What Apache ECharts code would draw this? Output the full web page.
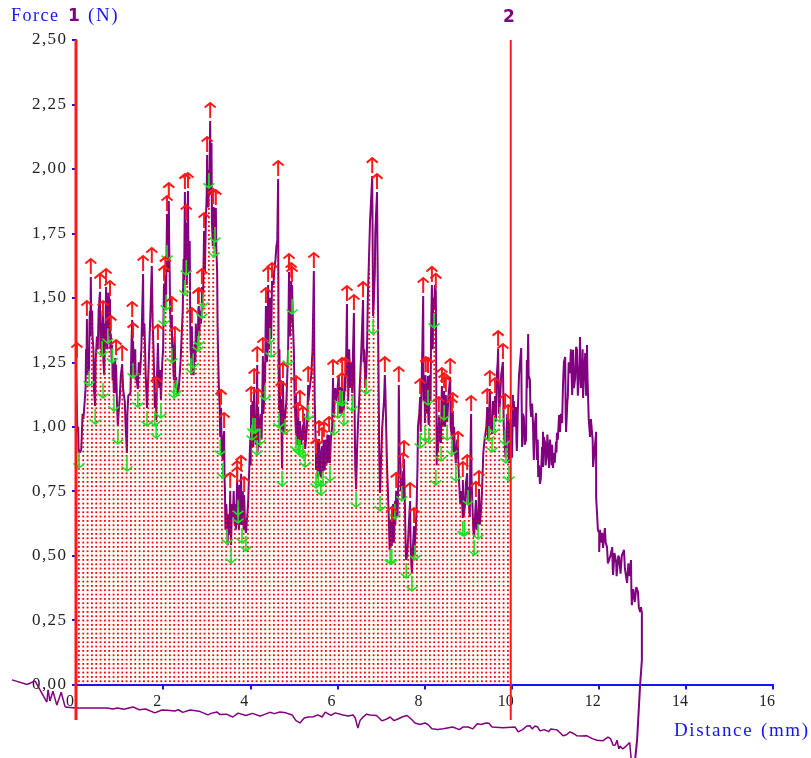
<!DOCTYPE html>
<html><head><meta charset="utf-8">
<style>html,body{margin:0;padding:0;background:#fff}#c{width:811px;height:758px}</style>
<script src="https://cdn.jsdelivr.net/npm/echarts@6/dist/echarts.min.js"></script>
</head><body><div id="c"></div>
<script>
const xTickLabels = ['0','2','4','6','8','10','12','14','16'];
const yTickLabels = ['0,00','0,25','0,50','0,75','1,00','1,25','1,50','1,75','2,00','2,25','2,50'];
const cursorPositions = [0, 9.98];
const cursorRange = [-0.138, 2.5];

const forcePoints = [[0,0],[0,1.255],[.02,1.255],[.03,.98],[.05,1],[.06,.9],[.07,.91],[.09,.9],[.12,.91],[.13,.95],[.15,1.05],[.17,1.03],[.2,1.1],[.22,1.15],[.23,1.3],[.24,1.2],[.25,1.418],[.26,1.25],[.27,1.3],[.28,1.2],[.3,1.228],[.31,1.4],[.32,1.45],[.33,1.35],[.34,1.581],[.35,1.4],[.37,1.45],[.38,1.35],[.4,1.3],[.41,1.15],[.44,1.08],[.45,1.25],[.47,1.25],[.48,1.35],[.5,1.3],[.52,1.45],[.55,1.523],[.56,1.3],[.58,1.4],[.59,1.28],[.6,1.344],[.61,1.45],[.62,1.418],[.63,1.25],[.65,1.2],[.66,1.4],[.67,1.3],[.69,1.542],[.7,1.35],[.71,1.45],[.72,1.3],[.73,1.394],[.74,1.52],[.76,1.5],[.77,1.35],[.78,1.495],[.79,1.3],[.8,1.36],[.82,1.25],[.83,1.317],[.84,1.18],[.85,1.25],[.87,1.131],[.89,1.2],[.9,1.266],[.91,1.13],[.92,1.24],[.94,1.1],[.96,1.003],[.98,1.06],[1,1.1],[1.03,1.2],[1.06,1.243],[1.08,1.15],[1.1,1.12],[1.12,1.1],[1.14,1],[1.17,.898],[1.18,1.05],[1.2,1.12],[1.25,1.13],[1.27,1.3],[1.29,1.414],[1.3,1.2],[1.31,1.259],[1.31,1.332],[1.33,1.2],[1.36,1.3],[1.37,1.18],[1.38,1.2],[1.42,1.146],[1.44,1.25],[1.47,1.2],[1.5,1.3],[1.52,1.45],[1.54,1.592],[1.55,1.35],[1.57,1.4],[1.6,1.2],[1.63,1.073],[1.66,1.2],[1.68,1.3],[1.71,1.45],[1.74,1.623],[1.76,1.4],[1.78,1.3],[1.8,1.15],[1.81,1.073],[1.84,1.123],[1.84,1.026],[1.86,1.2],[1.88,1.325],[1.9,1.2],[1.91,1.15],[1.93,1.22],[1.95,1.104],[1.98,1.25],[2,1.3],[2.01,1.45],[2.02,1.554],[2.04,1.464],[2.05,1.588],[2.06,1.46],[2.07,1.523],[2.08,1.7],[2.09,1.825],[2.1,1.65],[2.11,1.7],[2.12,1.6],[2.13,1.875],[2.14,1.7],[2.15,1.6],[2.16,1.45],[2.18,1.38],[2.2,1.433],[2.21,1.25],[2.22,1.317],[2.24,1.2],[2.25,1.181],[2.26,1.35],[2.27,1.317],[2.28,1.15],[2.3,1.193],[2.32,1.12],[2.36,1.15],[2.4,1.25],[2.45,1.45],[2.47,1.65],[2.48,1.55],[2.5,1.91],[2.51,1.6],[2.53,1.658],[2.53,1.79],[2.54,1.55],[2.55,1.6],[2.56,1.8],[2.57,1.914],[2.58,1.7],[2.6,1.6],[2.61,1.72],[2.62,1.45],[2.63,1.3],[2.64,1.278],[2.65,1.2],[2.66,1.39],[2.67,1.22],[2.69,1.298],[2.7,1.2],[2.72,1.32],[2.74,1.25],[2.75,1.4],[2.77,1.3],[2.8,1.363],[2.81,1.46],[2.82,1.468],[2.83,1.35],[2.85,1.45],[2.87,1.4],[2.89,1.491],[2.89,1.542],[2.9,1.45],[2.92,1.534],[2.93,1.65],[2.94,1.759],[2.96,1.6],[2.97,1.7],[2.98,1.8],[3,1.9],[3.01,2.054],[3.02,1.85],[3.03,1.95],[3.04,1.85],[3.05,1.996],[3.06,1.9],[3.07,2.05],[3.08,2.186],[3.09,1.95],[3.1,1.9],[3.11,2.1],[3.12,1.8],[3.13,1.8],[3.14,1.7],[3.15,1.852],[3.16,1.7],[3.17,1.728],[3.18,1.85],[3.19,1.786],[3.2,1.7],[3.21,1.848],[3.22,1.7],[3.24,1.6],[3.25,1.4],[3.26,1.3],[3.28,1.15],[3.3,1.073],[3.31,.96],[3.33,1.073],[3.34,.95],[3.35,.9],[3.37,.871],[3.38,.95],[3.4,.983],[3.41,.8],[3.42,.75],[3.43,.6],[3.45,.7],[3.47,.615],[3.48,.54],[3.5,.66],[3.52,.58],[3.54,.751],[3.55,.6],[3.56,.541],[3.58,.7],[3.6,.65],[3.62,.75],[3.64,.62],[3.65,.7],[3.67,.6],[3.7,.797],[3.71,.62],[3.72,.696],[3.74,.6],[3.75,.775],[3.77,.62],[3.79,.817],[3.8,.65],[3.81,.619],[3.83,.75],[3.85,.6],[3.86,.735],[3.88,.62],[3.9,.588],[3.93,.65],[3.95,.7],[3.98,.85],[4,.95],[4.01,.85],[4.02,1.084],[4.03,.92],[4.04,1.018],[4.05,1.1],[4.06,1.045],[4.07,.92],[4.09,1.154],[4.1,.95],[4.11,1.045],[4.13,.93],[4.15,1.1],[4.16,1.239],[4.16,.96],[4.17,.9],[4.18,1.076],[4.2,.92],[4.22,.999],[4.24,1.05],[4.26,.95],[4.29,1.274],[4.3,1.05],[4.32,1.1],[4.33,1.25],[4.34,1.173],[4.35,1.35],[4.36,1.468],[4.38,1.25],[4.4,1.3],[4.41,1.55],[4.43,1.3],[4.45,1.394],[4.46,1.5],[4.48,1.34],[4.49,1.45],[4.5,1.565],[4.53,1.55],[4.55,1.6],[4.58,1.65],[4.6,1.7],[4.62,1.72],[4.64,1.961],[4.65,1.3],[4.66,1.065],[4.67,1.3],[4.69,1],[4.71,1.107],[4.72,.95],[4.73,.84],[4.74,1],[4.75,1.177],[4.77,.98],[4.78,1],[4.8,1.042],[4.83,1.1],[4.85,1.2],[4.87,1.309],[4.88,1.45],[4.89,1.6],[4.91,1.35],[4.92,1.4],[4.93,1.52],[4.94,1.565],[4.95,1.4],[4.96,1.507],[4.96,1.55],[4.98,1.4],[5,1.3],[5.02,1.1],[5.05,.976],[5.05,1.127],[5.07,.93],[5.1,.964],[5.1,1.069],[5.12,.9],[5.14,.96],[5.14,1.022],[5.17,.93],[5.21,1.007],[5.21,.948],[5.24,1.05],[5.26,.914],[5.28,.95],[5.3,1],[5.32,1.1],[5.33,1.162],[5.33,1.096],[5.36,1.1],[5.4,1.2],[5.43,1.3],[5.45,1.5],[5.46,1.604],[5.47,1.3],[5.48,1.1],[5.5,.95],[5.51,.882],[5.51,.832],[5.53,.95],[5.55,.8],[5.56,.84],[5.57,.93],[5.58,.952],[5.6,.82],[5.62,.805],[5.63,.9],[5.65,.925],[5.66,.82],[5.67,.84],[5.68,.93],[5.69,.948],[5.71,.83],[5.73,.95],[5.75,.85],[5.77,.97],[5.79,.86],[5.81,.968],[5.83,.859],[5.85,.95],[5.88,1],[5.89,1.1],[5.9,1.189],[5.91,1.05],[5.92,1.038],[5.95,1.15],[5.98,1.1],[6.01,1.104],[6.03,1.2],[6.05,1.05],[6.06,1.154],[6.08,1.05],[6.11,1.197],[6.11,1.15],[6.13,1.05],[6.15,1.076],[6.17,1.18],[6.18,1.197],[6.18,1.138],[6.2,1.25],[6.22,1.476],[6.23,1.2],[6.24,1.3],[6.25,1.1],[6.27,1.3],[6.3,1.15],[6.32,1.25],[6.34,1.131],[6.36,1.3],[6.38,1.441],[6.39,1.2],[6.4,1],[6.41,.85],[6.43,.758],[6.45,.9],[6.47,1],[6.5,1.1],[6.55,1.3],[6.57,1.4],[6.59,1.491],[6.6,1.25],[6.62,1.3],[6.64,1.15],[6.66,1.197],[6.68,1.3],[6.7,1.5],[6.72,1.5],[6.75,1.8],[6.78,1.9],[6.8,1.972],[6.81,1.7],[6.82,1.429],[6.84,1.5],[6.86,1.6],[6.87,1.75],[6.91,1.91],[6.92,1.7],[6.93,1.5],[6.95,1.1],[6.96,.9],[6.98,.743],[7,.85],[7.03,1],[7.07,1.1],[7.09,1.2],[7.1,1.15],[7.12,1],[7.14,.85],[7.16,.75],[7.18,.65],[7.2,.52],[7.21,.6],[7.22,.54],[7.23,.64],[7.25,.537],[7.26,.66],[7.28,.7],[7.3,.55],[7.32,.712],[7.33,.62],[7.35,.751],[7.36,.68],[7.38,.65],[7.4,.8],[7.41,1.162],[7.43,.9],[7.45,.85],[7.46,.75],[7.48,.782],[7.49,.72],[7.51,.828],[7.52,.72],[7.53,.875],[7.55,.7],[7.56,.6],[7.57,.52],[7.58,.483],[7.6,.5],[7.62,.55],[7.64,.62],[7.67,.712],[7.68,.55],[7.7,.46],[7.71,.433],[7.73,.52],[7.76,.615],[7.77,.5],[7.78,.553],[7.8,.6],[7.82,.7],[7.84,.85],[7.85,1],[7.88,1.05],[7.9,1.115],[7.91,.98],[7.92,.987],[7.95,1.3],[7.97,1.507],[7.98,1.1],[8,1.2],[8.01,1.014],[8.02,1.2],[8.03,1.2],[8.05,1.05],[8.08,1.197],[8.08,1.154],[8.09,1.02],[8.1,1.007],[8.12,1.2],[8.14,1.1],[8.15,1.35],[8.17,1.55],[8.19,1.3],[8.2,1.5],[8.22,1.453],[8.24,1.55],[8.26,1.523],[8.27,1.2],[8.28,.85],[8.29,1],[8.31,.9],[8.33,1.045],[8.35,.95],[8.38,.937],[8.39,1.1],[8.4,1.158],[8.42,1],[8.45,1.096],[8.45,1.138],[8.47,1],[8.49,1.123],[8.5,1.03],[8.52,1.018],[8.55,1.12],[8.59,1.193],[8.6,1],[8.63,.96],[8.64,1.05],[8.65,1.061],[8.66,.9],[8.68,1],[8.7,.9],[8.72,.859],[8.75,.95],[8.77,.91],[8.79,.8],[8.82,.7],[8.85,.75],[8.88,.646],[8.88,.793],[8.9,.65],[8.93,.7],[8.95,.78],[8.98,.82],[8.99,.7],[9,.766],[9.02,.7],[9.04,.65],[9.05,.85],[9.07,1.049],[9.08,.8],[9.1,.7],[9.12,.6],[9.14,.572],[9.16,.65],[9.18,.716],[9.2,.6],[9.23,.634],[9.25,.758],[9.27,.62],[9.3,.68],[9.32,.75],[9.35,.9],[9.38,.95],[9.42,1],[9.44,1.076],[9.46,.95],[9.48,1.014],[9.5,1.146],[9.52,1],[9.55,.972],[9.57,1.1],[9.6,1.045],[9.62,1.119],[9.64,1.02],[9.66,1.2],[9.68,1.25],[9.69,1.301],[9.71,1.05],[9.73,1.088],[9.76,1.2],[9.8,1.251],[9.82,1],[9.85,.999],[9.86,.88],[9.87,.929],[9.9,1.05],[9.92,1.014],[9.93,.88],[9.94,.859],[9.97,1.03],[9.98,.95],
[10.01,.88],[10.03,1.123],[10.03,1],[10.05,1.1],[10.07,1],[10.1,1.076],[10.11,.95],[10.12,.906],[10.14,1.05],[10.17,1.2],[10.19,1.2],[10.22,1.305],[10.23,1.1],[10.24,.921],[10.26,1.05],[10.28,1.038],[10.3,.93],[10.33,.948],[10.34,1.1],[10.35,1.259],[10.36,1.15],[10.38,1.36],[10.39,1.2],[10.42,1.181],[10.43,1.08],[10.45,1.038],[10.47,1.09],[10.49,1.014],[10.5,.93],[10.51,.871],[10.53,1],[10.56,1.053],[10.57,.95],[10.58,.871],[10.6,.95],[10.61,.805],[10.63,.85],[10.65,.778],[10.67,.8],[10.7,.921],[10.71,.86],[10.72,.98],[10.72,.844],[10.74,.96],[10.77,.937],[10.78,.85],[10.81,.898],[10.82,.97],[10.84,.968],[10.86,.84],[10.88,.95],[10.9,.91],[10.92,.85],[10.93,.93],[10.95,.84],[10.97,.898],[10.99,.86],[11.02,.941],[11.03,.9],[11.04,.976],[11.06,.95],[11.09,1.045],[11.11,.98],[11.13,1.05],[11.16,1.014],[11.17,1.1],[11.18,1.162],[11.2,1.25],[11.23,1.27],[11.24,1.05],[11.25,.98],[11.27,.976],[11.28,1.1],[11.29,1.115],[11.31,1.25],[11.34,1.208],[11.36,1.3],[11.39,1.123],[11.4,1.2],[11.41,1.298],[11.43,1.15],[11.46,1.189],[11.48,1.31],[11.5,1.298],[11.52,1.12],[11.55,1.115],[11.56,1.25],[11.57,1.348],[11.59,1.15],[11.62,1.193],[11.63,1.3],[11.64,1.111],[11.66,1.2],[11.69,1.286],[11.71,1.12],[11.73,1.317],[11.74,1.2],[11.75,1.193],[11.77,1.03],[11.8,.96],[11.82,1.03],[11.85,1.034],[11.86,.95],[11.87,.844],[11.9,.9],[11.94,.98],[11.94,.727],[11.96,.665],[11.98,.6],[12.01,.588],[12.01,.514],[12.03,.6],[12.05,.55],[12.08,.588],[12.1,.53],[12.14,.607],[12.16,.55],[12.19,.533],[12.21,.47],[12.24,.471],[12.27,.5],[12.31,.533],[12.32,.45],[12.33,.425],[12.36,.51],[12.4,.475],[12.41,.42],[12.42,.413],[12.45,.5],[12.47,.491],[12.5,.43],[12.53,.5],[12.58,.522],[12.6,.45],[12.65,.394],[12.68,.47],[12.71,.42],[12.74,.483],[12.75,.36],[12.76,.308],[12.79,.37],[12.83,.32],[12.86,.378],[12.9,.359],[12.92,.3],[12.95,.281],[12.97,.3],[12.99,.277],[12.99,.173],[12.99,.095],[12.95,0],[12.88,-.215],[12.83,-.3]];

const returnPoints = [[12.74,-.3],[12.74,-.281],[12.71,-.225],[12.67,-.22],[12.62,-.24],[12.58,-.235],[12.55,-.25],[12.49,-.239],[12.46,-.25],[12.42,-.216],[12.38,-.235],[12.33,-.236],[12.27,-.21],[12.21,-.204],[12.1,-.218],[11.96,-.216],[11.85,-.21],[11.73,-.199],[11.6,-.2],[11.5,-.199],[11.42,-.19],[11.34,-.184],[11.26,-.195],[11.18,-.199],[11.1,-.185],[11.04,-.176],[10.9,-.173],[10.85,-.183],[10.75,-.175],[10.65,-.18],[10.6,-.165],[10.54,-.161],[10.47,-.172],[10.42,-.16],[10.35,-.161],[10.25,-.175],[10.15,-.184],[10.08,-.165],[9.8,-.168],[9.55,-.165],[9.48,-.15],[9.41,-.149],[9.3,-.155],[9.21,-.152],[9.11,-.172],[9,-.165],[8.88,-.165],[8.8,-.175],[8.65,-.165],[8.43,-.172],[8.3,-.175],[8.17,-.172],[8.08,-.155],[8.01,-.149],[7.9,-.155],[7.78,-.149],[7.7,-.135],[7.6,-.12],[7.5,-.125],[7.39,-.134],[7.3,-.14],[7.21,-.126],[7.12,-.135],[7.02,-.141],[6.9,-.12],[6.75,-.118],[6.67,-.115],[6.59,-.126],[6.52,-.14],[6.47,-.169],[6.41,-.13],[6.36,-.118],[6.25,-.122],[6.13,-.118],[5.95,-.11],[5.85,-.12],[5.72,-.107],[5.65,-.126],[5.55,-.118],[5.45,-.125],[5.33,-.126],[5.24,-.13],[5.14,-.149],[5.05,-.14],[4.96,-.118],[4.82,-.11],[4.68,-.107],[4.55,-.113],[4.45,-.108],[4.3,-.118],[4.22,-.122],[4.05,-.112],[3.9,-.12],[3.72,-.111],[3.6,-.126],[3.45,-.115],[3.3,-.116],[3.24,-.107],[3.1,-.112],[3.03,-.118],[2.85,-.105],[2.75,-.102],[2.62,-.099],[2.45,-.108],[2.35,-.098],[2.27,-.103],[2.1,-.1],[1.97,-.099],[1.81,-.11],[1.6,-.095],[1.45,-.098],[1.31,-.087],[1.1,-.096],[.95,-.091],[.85,-.095],[.71,-.091],[.51,-.091],[.2,-.091],[0,-.091]];

const returnLeftPoints = [[0,-.091],[-.02,-.091],[-.25,-.087],[-.34,-.03],[-.44,-.08],[-.53,-.026],[-.6,-.064],[-.64,-.021],[-.67,-.068],[-.94,.014],[-1.12,0],[-1.47,.018]];

const peakPoints = [[.02,1.255],[.25,1.418],[.34,1.581],[.55,1.523],[.62,1.418],[.69,1.542],[.78,1.495],[.8,1.36],[.92,1.266],[1.06,1.243],[1.29,1.414],[1.31,1.332],[1.54,1.592],[1.74,1.623],[1.84,1.123],[1.88,1.325],[2.02,1.554],[2.05,1.588],[2.09,1.825],[2.13,1.875],[2.2,1.433],[2.27,1.317],[2.5,1.91],[2.53,1.79],[2.57,1.914],[2.66,1.39],[2.8,1.464],[2.82,1.468],[2.89,1.542],[2.94,1.759],[3.01,2.054],[3.08,2.186],[3.15,1.852],[3.21,1.848],[3.33,1.073],[3.4,.983],[3.54,.751],[3.7,.797],[3.7,.774],[3.79,.817],[3.86,.735],[4.02,1.084],[4.09,1.154],[4.16,1.239],[4.18,1.076],[4.29,1.274],[4.36,1.468],[4.41,1.55],[4.5,1.565],[4.64,1.961],[4.71,1.107],[4.75,1.177],[4.89,1.6],[4.94,1.565],[4.96,1.55],[5.05,1.127],[5.14,1.069],[5.1,1.022],[5.21,1.007],[5.33,1.162],[5.46,1.604],[5.51,.882],[5.58,.952],[5.65,.925],[5.69,.948],[5.81,.968],[5.9,1.189],[6.11,1.197],[6.18,1.197],[6.11,1.138],[6.22,1.476],[6.38,1.441],[6.59,1.491],[6.8,1.972],[6.91,1.91],[7.09,1.2],[7.35,.751],[7.41,1.162],[7.51,.828],[7.53,.875],[7.67,.712],[7.76,.615],[7.25,.619],[7.9,1.115],[7.97,1.507],[8.03,1.2],[8.08,1.197],[8.17,1.55],[8.26,1.523],[8.33,1.045],[8.4,1.158],[8.45,1.138],[8.49,1.123],[8.59,1.193],[8.63,1.041],[8.65,1.061],[8.77,.91],[8.88,.793],[8.98,.82],[9.07,1.049],[9.18,.716],[9.25,.758],[9.44,1.076],[9.5,1.146],[9.62,1.119],[9.69,1.301],[9.8,1.251],[9.85,1.057],[9.92,1.014]];

const valleyPoints = [[.07,.91],[.3,1.228],[.44,1.08],[.6,1.344],[.62,1.181],[.73,1.394],[.83,1.317],[.87,1.131],[.96,1.003],[1.17,.898],[1.31,1.259],[1.42,1.146],[1.63,1.073],[1.81,1.073],[1.84,1.026],[1.95,1.104],[2.02,1.464],[2.07,1.523],[2.09,1.716],[2.2,1.317],[2.25,1.181],[2.3,1.193],[2.5,1.581],[2.53,1.658],[2.64,1.278],[2.69,1.298],[2.8,1.363],[2.82,1.383],[2.89,1.491],[2.92,1.534],[3.05,1.996],[3.17,1.728],[3.19,1.786],[3.31,.96],[3.37,.871],[3.47,.615],[3.56,.541],[3.72,.727],[3.72,.696],[3.81,.619],[3.9,.588],[4.04,1.018],[4.06,1.045],[4.11,1.045],[4.16,.96],[4.22,.999],[4.34,1.173],[4.45,1.394],[4.48,1.34],[4.66,1.065],[4.8,1.042],[4.73,.84],[4.87,1.309],[4.96,1.507],[5.05,.976],[5.1,.964],[5.14,.96],[5.21,.948],[5.26,.914],[5.33,1.096],[5.51,.832],[5.56,.84],[5.62,.805],[5.67,.84],[5.83,.859],[5.92,1.038],[6.01,1.104],[6.06,1.154],[6.11,1.15],[6.15,1.076],[6.34,1.131],[6.43,.758],[6.66,1.197],[6.82,1.429],[6.98,.743],[7.21,.537],[7.25,.537],[7.32,.712],[7.48,.782],[7.58,.483],[7.71,.433],[7.78,.553],[7.9,.987],[8.01,1.014],[8.08,1.154],[8.1,1.007],[8.22,1.453],[8.26,.844],[8.38,.937],[8.45,1.096],[8.52,1.018],[8.63,.96],[8.72,.859],[8.88,.646],[8.92,.646],[9,.766],[9.14,.572],[9.23,.634],[9.48,1.014],[9.55,.972],[9.6,1.045],[9.73,1.088],[9.85,.999],[9.87,.929],[9.94,.859]];

const purple = '#800080', red = '#ff1a1a', green = '#22e022', blue = '#1414ff';
const serif = '"Liberation Serif","Times New Roman",serif';
const spaced = s => s.split('').join('\u200a');

function dotPattern() {
  const c = document.createElement('canvas');
  c.width = 13; c.height = 13;
  const g = c.getContext('2d');
  g.fillStyle = '#ff0000';
  for (let i = 0; i < 3; i++) for (let j = 0; j < 3; j++) g.fillRect(i * 13 / 3, j * 13 / 3, 1.8, 1.8);
  return c;
}

function arrowItem(dir, color, width) {
  return function (params, api) {
    const p = api.coord([api.value(0), api.value(1)]);
    const x = p[0], b = p[1] - dir * 3, t = b - dir * 15;
    const head = t + dir * 4.5;
    const style = { stroke: color, lineWidth: width, fill: null };
    return { type: 'group', children: [
      { type: 'line', shape: { x1: x, y1: b, x2: x, y2: t }, style },
      { type: 'polyline', shape: { points: [[x - 5.5, head], [x, t], [x + 5.5, head]] }, style }
    ] };
  };
}

function segmentItem(params, api) {
  const i = params.dataIndex;
  if (i === 0) return null;
  const a = api.coord(returnLeftPoints[i - 1]), b = api.coord([api.value(0), api.value(1)]);
  return { type: 'line', shape: { x1: a[0], y1: a[1], x2: b[0], y2: b[1] },
    style: { stroke: purple, lineWidth: 1.5 } };
}

const chart = echarts.init(document.getElementById('c'), null, { renderer: 'canvas' });
const lastCursor = cursorPositions[1];
const inside = forcePoints.filter(p => p[0] <= lastCursor);

chart.setOption({
  animation: false,
  backgroundColor: '#fff',
  grid: { left: 76, top: 40, width: 697, height: 644.5, containLabel: false },
  xAxis: { type: 'value', min: 0, max: 16, interval: 2, splitLine: { show: false },
    axisLine: { onZero: false, lineStyle: { color: blue, width: 2 } },
    axisTick: { length: 5, lineStyle: { color: blue, width: 2 } },
    axisLabel: { color: '#222', fontFamily: serif, fontSize: 16, margin: 9, padding: [0, 12, 0, 0],
      hideOverlap: false, showMinLabel: true, showMaxLabel: true,
      formatter: (v) => xTickLabels[Math.round(v / 2)] } },
  yAxis: { type: 'value', min: 0, max: 2.5, interval: 0.25, splitLine: { show: false },
    axisLine: { show: true, onZero: false, lineStyle: { color: blue, width: 2 } },
    axisTick: { length: 4, lineStyle: { color: blue, width: 2 } },
    axisLabel: { color: '#222', fontFamily: serif, fontSize: 17, margin: 10, padding: [9, 0, 0, 0],
      hideOverlap: false, showMinLabel: true, showMaxLabel: true,
      formatter: (v) => spaced(yTickLabels[Math.round(v / 0.25)]) } },
  graphic: [
    { type: 'text', left: 11, top: 7, z: 10, style: { text: spaced('Force'), fill: blue, font: '18px ' + serif } },
    { type: 'text', left: 88, top: 7, z: 10, style: { text: spaced('(N)'), fill: blue, font: '19px ' + serif } },
    { type: 'text', left: 68, top: 8, z: 10, style: { text: '1', fill: purple, font: 'bold 17px "DejaVu Sans"' } },
    { type: 'text', left: 503, top: 9, z: 10, style: { text: '2', fill: purple, font: 'bold 17px "DejaVu Sans"' } },
    { type: 'text', left: 674, top: 722, z: 10, style: { text: spaced('Distance') + '  ' + spaced('(mm)'), fill: blue, font: '19px ' + serif } }
  ],
  series: [
    { name: 'force', type: 'line', data: forcePoints, showSymbol: false, clip: false, z: 2,
      lineStyle: { color: purple, width: 2 } },
    { name: 'return', type: 'line', data: returnPoints, showSymbol: false, clip: false, z: 2,
      lineStyle: { color: purple, width: 1.5 } },
    { name: 'returnLeft', type: 'custom', data: returnLeftPoints, renderItem: segmentItem, z: 2, clip: false, encode: { x: 0, y: 1 } },
    { name: 'area', type: 'line', data: inside, showSymbol: false, clip: false, z: 3,
      lineStyle: { width: 0, opacity: 0 }, areaStyle: { color: { image: dotPattern(), repeat: 'repeat' }, opacity: 1 } },
    { name: 'valleys', type: 'custom', data: valleyPoints, renderItem: arrowItem(-1, green, 1.6), z: 4, clip: false, encode: { x: 0, y: 1 } },
    { name: 'peaks', type: 'custom', data: peakPoints, renderItem: arrowItem(1, red, 2), z: 5, clip: false, encode: { x: 0, y: 1 } },
    ...cursorPositions.map((c, i) => ({ name: 'cursor' + (i + 1), type: 'line', showSymbol: false, clip: false, z: 6,
      data: [[c, cursorRange[0]], [c, cursorRange[1]]],
      lineStyle: { color: red, width: i === 0 ? 3 : 2 } }))
  ]
});
</script></body></html>
